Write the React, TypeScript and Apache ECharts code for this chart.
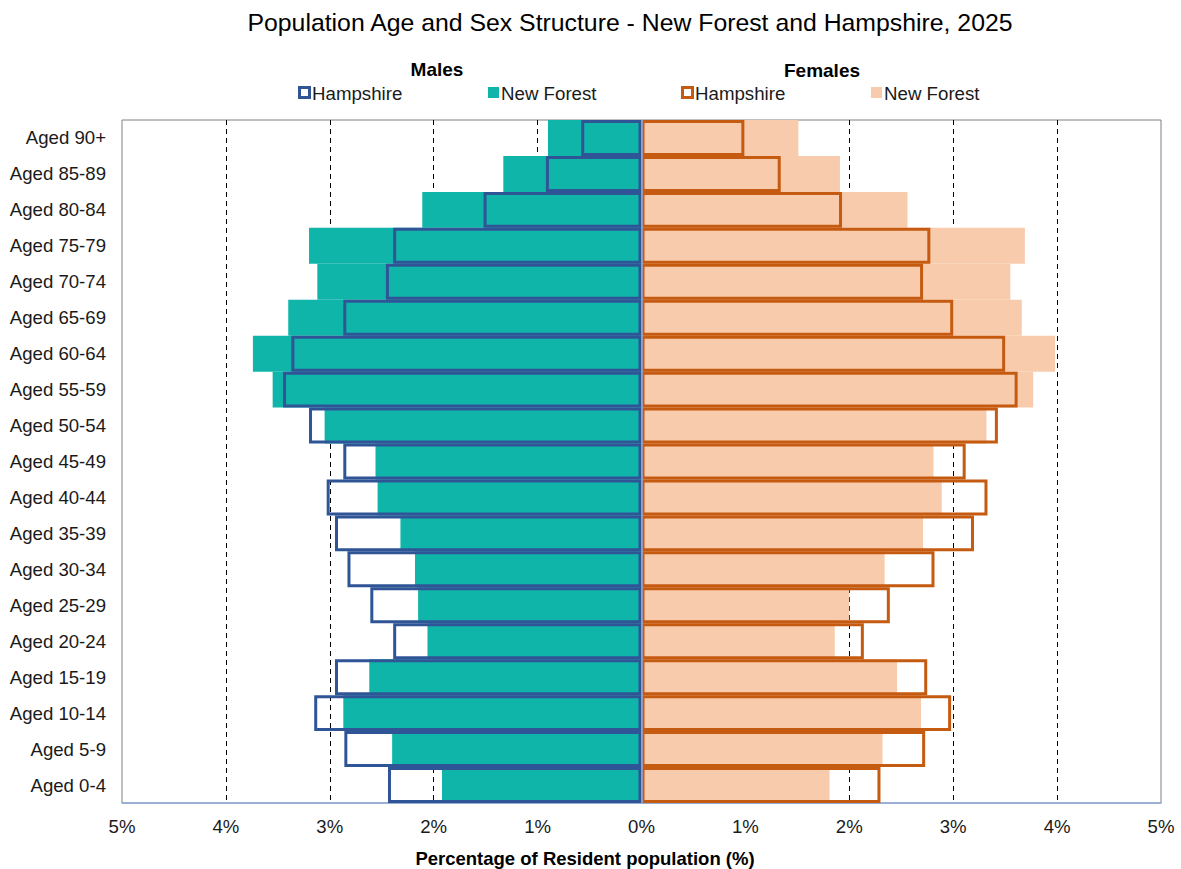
import React, { useEffect, useRef } from "react";
import * as echarts from "echarts";

const categories = [
  "Aged 90+", "Aged 85-89", "Aged 80-84", "Aged 75-79", "Aged 70-74", "Aged 65-69",
  "Aged 60-64", "Aged 55-59", "Aged 50-54", "Aged 45-49", "Aged 40-44", "Aged 35-39",
  "Aged 30-34", "Aged 25-29", "Aged 20-24", "Aged 15-19", "Aged 10-14", "Aged 5-9", "Aged 0-4",
];

const maleNewForest = [0.9, 1.33, 2.11, 3.2, 3.12, 3.4, 3.74, 3.55, 3.05, 2.56, 2.54, 2.32, 2.18, 2.15, 2.06, 2.62, 2.87, 2.4, 1.92];
const maleHampshire = [0.58, 0.92, 1.52, 2.39, 2.46, 2.87, 3.37, 3.45, 3.2, 2.87, 3.03, 2.95, 2.83, 2.61, 2.39, 2.95, 3.15, 2.86, 2.44];
const femaleNewForest = [1.51, 1.91, 2.56, 3.69, 3.55, 3.66, 3.98, 3.77, 3.32, 2.81, 2.89, 2.71, 2.34, 2.0, 1.86, 2.46, 2.69, 2.32, 1.81];
const femaleHampshire = [0.99, 1.34, 1.93, 2.78, 2.71, 3.0, 3.5, 3.62, 3.43, 3.12, 3.33, 3.2, 2.82, 2.39, 2.14, 2.75, 2.98, 2.73, 2.3];

const gridValues = [-4, -3, -2, -1, 1, 2, 3, 4];

const FONT = "'Liberation Sans', Arial, sans-serif";
const TEAL = "#10B5AA";
const BLUE = "#2F5597";
const ORANGE = "#C55A11";
const PEACH = "#F8CBAD";
const AXISBLUE = "#8FAADC";

export default function App() {
  const ref = useRef<HTMLDivElement>(null);
  useEffect(() => {
    if (!ref.current) return;
    const chart = echarts.init(ref.current, null, { renderer: "svg" });
    const legendY = 93;
    const legendFont = 18.7;
    chart.setOption({
      animation: false,
      textStyle: { fontFamily: FONT },
      grid: {
        left: 122,
        right: 20,
        top: 120,
        bottom: 66,
        show: true,
        borderColor: "#808080",
        borderWidth: 1,
        backgroundColor: "#fff",
      },
      xAxis: {
        type: "value",
        min: -5,
        max: 5,
        interval: 1,
        axisLine: { show: true, onZero: false, lineStyle: { color: AXISBLUE, width: 1.5 } },
        axisTick: { show: false },
        splitLine: { show: false },
        axisLabel: {
          formatter: (v: number) => Math.abs(v) + "%",
          fontSize: 18.6,
          color: "#1a1a1a",
          margin: 14,
          fontFamily: FONT,
        },
      },
      yAxis: {
        type: "category",
        data: categories,
        inverse: true,
        axisLine: { show: false },
        axisTick: { show: false },
        axisLabel: { fontSize: 18.6, color: "#1a1a1a", margin: 16, fontFamily: FONT },
      },
      series: [
        {
          name: "Males New Forest",
          type: "bar",
          data: maleNewForest.map((v) => -v),
          barCategoryGap: "0%",
          barGap: "-100%",
          itemStyle: { color: TEAL },
          z: 2,
          markLine: {
            silent: true,
            z: 1,
            symbol: ["none", "none"],
            label: { show: false },
            lineStyle: { type: [5, 4], color: "#000", width: 1 },
            data: gridValues.map((v) => ({ xAxis: v })),
          },
        },
        {
          name: "Females New Forest",
          type: "bar",
          data: femaleNewForest,
          barCategoryGap: "0%",
          barGap: "-100%",
          itemStyle: { color: PEACH },
          z: 2,
        },
        {
          name: "Males Hampshire",
          type: "bar",
          data: maleHampshire.map((v) => -v),
          barCategoryGap: "0%",
          barGap: "-100%",
          itemStyle: { color: "rgba(0,0,0,0)", borderColor: BLUE, borderWidth: 3 },
          z: 3,
        },
        {
          name: "Females Hampshire",
          type: "bar",
          data: femaleHampshire,
          barCategoryGap: "0%",
          barGap: "-100%",
          itemStyle: { color: "rgba(0,0,0,0)", borderColor: ORANGE, borderWidth: 3 },
          z: 3,
          markLine: {
            silent: true,
            z: 10,
            symbol: ["none", "none"],
            label: { show: false },
            lineStyle: { type: "solid", color: AXISBLUE, width: 1.5 },
            data: [{ xAxis: 0 }],
          },
        },
      ],
      graphic: [
        {
          type: "text",
          x: 630,
          y: 22,
          style: {
            text: "Population Age and Sex Structure - New Forest and Hampshire, 2025",
            fontSize: 24.8,
            fontFamily: FONT,
            fill: "#000",
            textAlign: "center",
            textVerticalAlign: "middle",
          },
        },
        {
          type: "text",
          x: 437,
          y: 69,
          style: { text: "Males", fontSize: 19, fontWeight: "bold", fontFamily: FONT, fill: "#000", textAlign: "center", textVerticalAlign: "middle" },
        },
        {
          type: "text",
          x: 822,
          y: 70,
          style: { text: "Females", fontSize: 19, fontWeight: "bold", fontFamily: FONT, fill: "#000", textAlign: "center", textVerticalAlign: "middle" },
        },
        {
          type: "rect",
          shape: { x: 299.5, y: legendY - 5.5, width: 10, height: 10 },
          style: { fill: "#fff", stroke: BLUE, lineWidth: 3 },
        },
        {
          type: "text",
          x: 312,
          y: legendY,
          style: { text: "Hampshire", fontSize: legendFont, fontFamily: FONT, fill: "#1a1a1a", textVerticalAlign: "middle" },
        },
        {
          type: "rect",
          shape: { x: 488, y: legendY - 6, width: 11, height: 11 },
          style: { fill: TEAL },
        },
        {
          type: "text",
          x: 501,
          y: legendY,
          style: { text: "New Forest", fontSize: legendFont, fontFamily: FONT, fill: "#1a1a1a", textVerticalAlign: "middle" },
        },
        {
          type: "rect",
          shape: { x: 682.5, y: legendY - 5.5, width: 10, height: 10 },
          style: { fill: "#fff", stroke: ORANGE, lineWidth: 3 },
        },
        {
          type: "text",
          x: 695,
          y: legendY,
          style: { text: "Hampshire", fontSize: legendFont, fontFamily: FONT, fill: "#1a1a1a", textVerticalAlign: "middle" },
        },
        {
          type: "rect",
          shape: { x: 871, y: legendY - 6, width: 11, height: 11 },
          style: { fill: PEACH },
        },
        {
          type: "text",
          x: 884,
          y: legendY,
          style: { text: "New Forest", fontSize: legendFont, fontFamily: FONT, fill: "#1a1a1a", textVerticalAlign: "middle" },
        },
        {
          type: "text",
          x: 585,
          y: 858,
          style: {
            text: "Percentage of Resident population (%)",
            fontSize: 18.5,
            fontWeight: "bold",
            fontFamily: FONT,
            fill: "#000",
            textAlign: "center",
            textVerticalAlign: "middle",
          },
        },
      ],
    });
    return () => chart.dispose();
  }, []);
  return (
    <div
      ref={ref}
      style={{ position: "absolute", left: 0, top: 0, width: 1181, height: 869, background: "#fff" }}
    />
  );
}
